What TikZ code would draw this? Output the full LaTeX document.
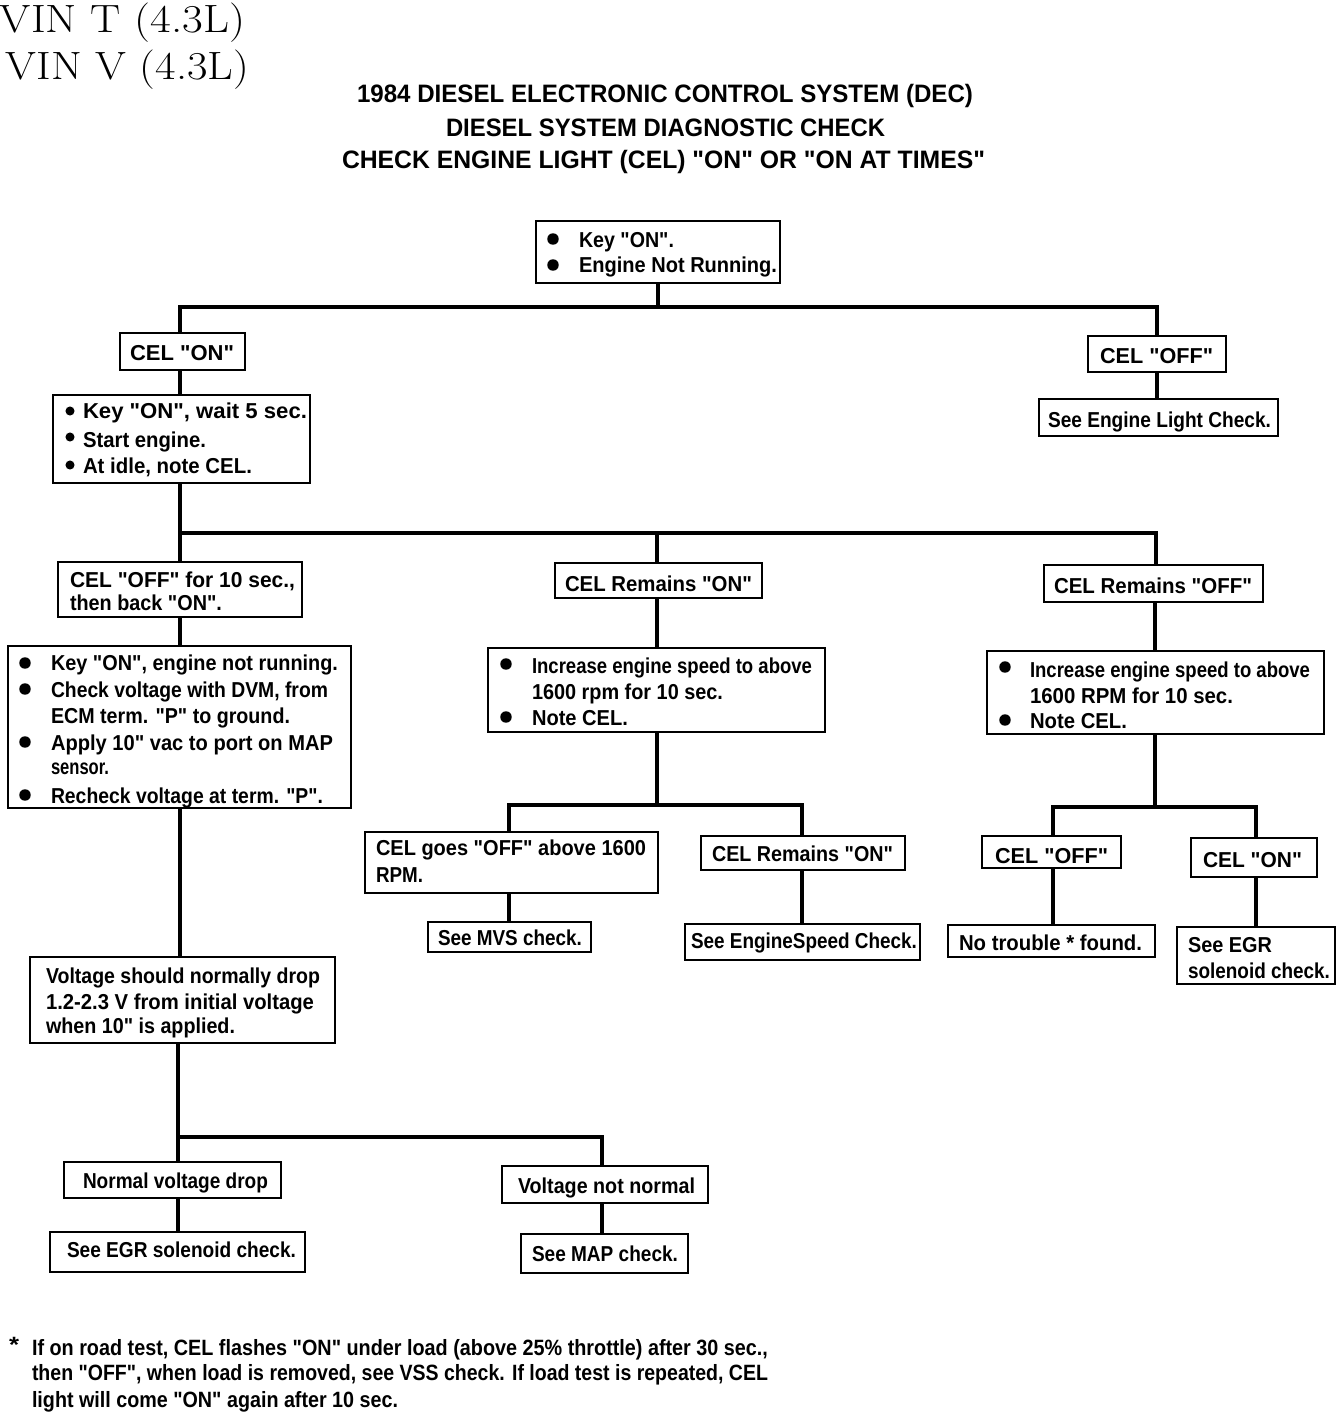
\documentclass[tikz,border=0pt]{standalone}
\usepackage{fontspec}
\newfontfamily\lsans{Liberation Sans}
\newlength\fitlen
\newcommand\fitx[2]{\settowidth\fitlen{#2}\pgfmathsetmacro\fitr{(#1)*0.75/\fitlen}\scalebox{\fitr}[1]{#2}}
\newcommand\mybox[5]{\node[boxs, minimum width={(#4-#2)*0.75pt}, minimum height={(#5-#3)*0.75pt}] (#1) at ({(#2+#4)/2},{(#3+#5)/2}) {};}
\newcommand\tline[6][tx]{\node[#1] (#2) at (#3,#4) {\fitx{#5-#3}{#6}};}
\tikzset{
  boxs/.style={draw, line width=2.2pt, inner sep=0pt, outer sep=0pt},
  conn/.style={line width=3.6pt, line join=miter},
  tx/.style={anchor=base west, inner sep=0pt, outer sep=0pt, font=\lsans\bfseries\fontsize{16.2}{18}\selectfont},
  ttl/.style={tx, font=\lsans\bfseries\fontsize{18.9}{21}\selectfont},
  ft/.style={tx, font=\lsans\bfseries\fontsize{16.6}{18}\selectfont},
  vin/.style={tx, font=\fontsize{29.6}{32}\selectfont},
  dot/.style={circle, fill, inner sep=0pt, minimum size=8.6pt},
  sdot/.style={circle, fill, inner sep=0pt, minimum size=6.8pt},
}
\begin{document}
\begin{tikzpicture}[x=0.75pt,y=-0.75pt]
\useasboundingbox (0,0) rectangle (1344,1416);
% headings
\tline[vin]{vin1}{0}{33}{245}{VIN T (4.3L)}
\tline[vin]{vin2}{6}{80}{249}{VIN V (4.3L)}
\tline[ttl]{ti1}{357}{103}{973}{1984 DIESEL ELECTRONIC CONTROL SYSTEM (DEC)}
\tline[ttl]{ti2}{446}{137}{885}{DIESEL SYSTEM DIAGNOSTIC CHECK}
\tline[ttl]{ti3}{342}{168}{985}{CHECK ENGINE LIGHT (CEL) "ON" OR "ON AT TIMES"}
% boxes
\mybox{b1}{536}{221}{780}{283}
\mybox{celon}{120}{333}{245}{370}
\mybox{celoff}{1088}{336}{1226}{372}
\mybox{seelight}{1039}{399}{1278}{436}
\mybox{kw5}{53}{395}{310}{483}
\mybox{off10}{58}{562}{302}{617}
\mybox{bigbox}{8}{646}{351}{808}
\mybox{remon}{555}{563}{762}{598}
\mybox{inc1}{488}{648}{825}{732}
\mybox{goesoff}{365}{832}{658}{893}
\mybox{remon2}{701}{836}{905}{870}
\mybox{seemvs}{428}{922}{591}{952}
\mybox{seespeed}{685}{924}{920}{960}
\mybox{remoff}{1044}{565}{1263}{602}
\mybox{inc2}{987}{651}{1324}{734}
\mybox{celoff2}{982}{836}{1121}{868}
\mybox{celon2}{1191}{838}{1317}{877}
\mybox{notrouble}{948}{925}{1155}{957}
\mybox{seeegr2}{1177}{927}{1335}{984}
\mybox{volt}{30}{957}{335}{1043}
\mybox{nvd}{64}{1162}{281}{1198}
\mybox{vnn}{502}{1166}{708}{1203}
\mybox{seeegr1}{50}{1232}{305}{1272}
\mybox{seemap}{521}{1234}{688}{1273}
% texts
\node[dot] (d1) at (553,239) {};
\node[dot] (d2) at (553,265) {};
\tline{b1a}{579}{247}{674}{Key "ON".}
\tline{b1b}{579}{272}{777}{Engine Not Running.}
\tline{celont}{130}{360}{234}{CEL "ON"}
\tline{celofft}{1100}{363}{1213}{CEL "OFF"}
\tline{seelightt}{1048}{427}{1271}{See Engine Light Check.}
\node[sdot] (d3) at (70,411) {};
\node[sdot] (d4) at (70,437) {};
\node[sdot] (d5) at (70,465) {};
\tline{kw5a}{83}{418}{307}{Key "ON", wait 5 sec.}
\tline{kw5b}{83}{447}{206}{Start engine.}
\tline{kw5c}{83}{473}{252}{At idle, note CEL.}
\tline{off10a}{70}{587}{295}{CEL "OFF" for 10 sec.,}
\tline{off10b}{70}{610}{222}{then back "ON".}
\node[dot] (d6) at (25,663) {};
\node[dot] (d7) at (25,689) {};
\node[dot] (d8) at (25,742) {};
\node[dot] (d9) at (25,795) {};
\tline{bba}{51}{670}{338}{Key "ON", engine not running.}
\tline{bbb}{51}{697}{328}{Check voltage with DVM, from}
\tline{bbc}{51}{723}{290}{ECM term. "P" to ground.}
\tline{bbd}{51}{750}{333}{Apply 10" vac to port on MAP}
\tline{bbe}{51}{774}{109}{sensor.}
\tline{bbf}{51}{803}{323}{Recheck voltage at term. "P".}
\tline{remont}{565}{591}{752}{CEL Remains "ON"}
\node[dot] (d10) at (506,664) {};
\node[dot] (d11) at (506,717) {};
\tline{inc1a}{532}{673}{812}{Increase engine speed to above}
\tline{inc1b}{532}{699}{723}{1600 rpm for 10 sec.}
\tline{inc1c}{532}{725}{628}{Note CEL.}
\tline{goesoffa}{376}{855}{646}{CEL goes "OFF" above 1600}
\tline{goesoffb}{376}{882}{423}{RPM.}
\tline{remon2t}{712}{861}{893}{CEL Remains "ON"}
\tline{seemvst}{438}{945}{582}{See MVS check.}
\tline{seespeedt}{691}{948}{917}{See EngineSpeed Check.}
\tline{remofft}{1054}{593}{1252}{CEL Remains "OFF"}
\node[dot] (d12) at (1005,667) {};
\node[dot] (d13) at (1005,720) {};
\tline{inc2a}{1030}{677}{1310}{Increase engine speed to above}
\tline{inc2b}{1030}{703}{1233}{1600 RPM for 10 sec.}
\tline{inc2c}{1030}{728}{1127}{Note CEL.}
\tline{celoff2t}{995}{863}{1108}{CEL "OFF"}
\tline{celon2t}{1203}{867}{1302}{CEL "ON"}
\tline{notroublet}{959}{950}{1142}{No trouble * found.}
\tline{seeegr2a}{1188}{952}{1272}{See EGR}
\tline{seeegr2b}{1188}{978}{1330}{solenoid check.}
\tline{volta}{46}{983}{320}{Voltage should normally drop}
\tline{voltb}{46}{1009}{314}{1.2-2.3 V from initial voltage}
\tline{voltc}{46}{1033}{235}{when 10" is applied.}
\tline{nvdt}{83}{1188}{268}{Normal voltage drop}
\tline{vnnt}{518}{1193}{695}{Voltage not normal}
\tline{seeegr1t}{67}{1257}{296}{See EGR solenoid check.}
\tline{seemapt}{532}{1261}{678}{See MAP check.}
% footnote
\tline[ft]{fstar}{9}{1352}{19}{*}
\tline[ft]{fa}{32}{1355}{768}{If on road test, CEL flashes "ON" under load (above 25\% throttle) after 30 sec.,}
\tline[ft]{fb}{32}{1380}{768}{then "OFF", when load is removed, see VSS check. If load test is repeated, CEL}
\tline[ft]{fc}{32}{1407}{398}{light will come "ON" again after 10 sec.}
% connectors
\coordinate (h1L) at (180,307);
\coordinate (h1R) at (1157,307);
\draw[conn] (b1.south) -- (b1.south |- h1L);
\draw[conn] (h1L |- celon.north) -- (h1L) -- (h1R) -- (h1R |- celoff.north);
\draw[conn] (h1R |- celoff.south) -- (h1R |- seelight.north);
\draw[conn] (h1L |- celon.south) -- (h1L |- kw5.north);
\coordinate (h2L) at (180,533);
\coordinate (h2M) at (657,533);
\coordinate (h2R) at (1156,533);
\draw[conn] (h2L |- kw5.south) -- (h2L);
\draw[conn] (h2L |- off10.north) -- (h2L) -- (h2R) -- (h2R |- remoff.north);
\draw[conn] (h2M) -- (h2M |- remon.north);
\draw[conn] (h2L |- off10.south) -- (h2L |- bigbox.north);
\draw[conn] (h2L |- bigbox.south) -- (h2L |- volt.north);
\coordinate (h3L) at (178,1137);
\coordinate (h3R) at (602,1137);
\draw[conn] (h3L |- volt.south) -- (h3L);
\draw[conn] (h3L |- nvd.north) -- (h3L) -- (h3R) -- (h3R |- vnn.north);
\draw[conn] (h3L |- nvd.south) -- (h3L |- seeegr1.north);
\draw[conn] (h3R |- vnn.south) -- (h3R |- seemap.north);
\coordinate (h4L) at (509,805);
\coordinate (h4M) at (657,805);
\coordinate (h4R) at (802,805);
\draw[conn] (h4M |- remon.south) -- (h4M |- inc1.north);
\draw[conn] (h4M |- inc1.south) -- (h4M);
\draw[conn] (h4L |- goesoff.north) -- (h4L) -- (h4R) -- (h4R |- remon2.north);
\draw[conn] (h4L |- goesoff.south) -- (h4L |- seemvs.north);
\draw[conn] (h4R |- remon2.south) -- (h4R |- seespeed.north);
\coordinate (h5L) at (1053,807);
\coordinate (h5M) at (1155,807);
\coordinate (h5R) at (1256,807);
\draw[conn] (h5M |- remoff.south) -- (h5M |- inc2.north);
\draw[conn] (h5M |- inc2.south) -- (h5M);
\draw[conn] (h5L |- celoff2.north) -- (h5L) -- (h5R) -- (h5R |- celon2.north);
\draw[conn] (h5L |- celoff2.south) -- (h5L |- notrouble.north);
\draw[conn] (h5R |- celon2.south) -- (h5R |- seeegr2.north);
\end{tikzpicture}
\end{document}
